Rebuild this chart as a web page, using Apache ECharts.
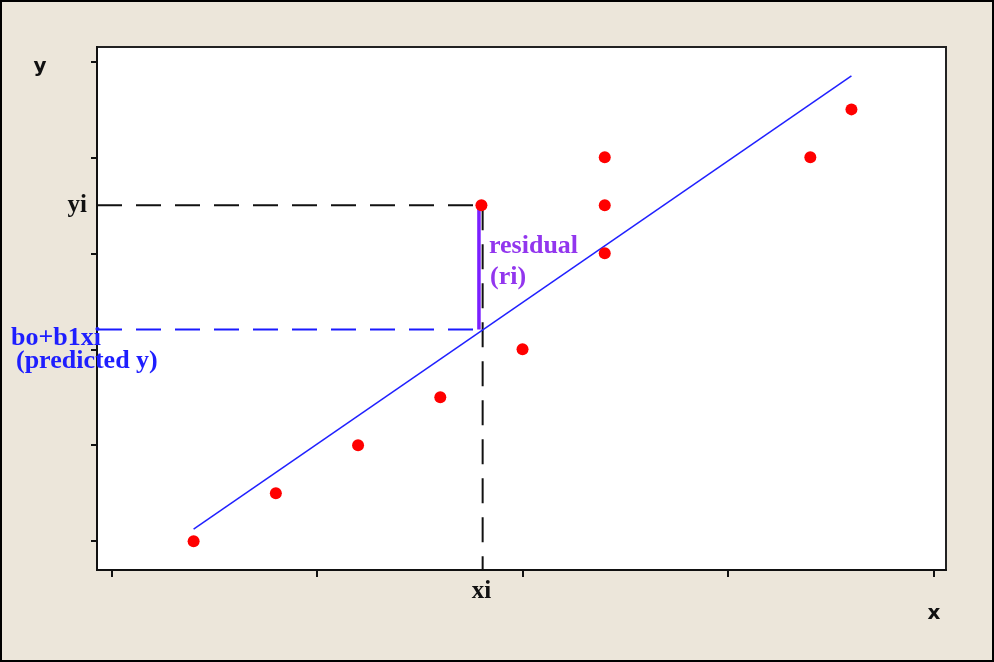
<!DOCTYPE html>
<html>
<head>
<meta charset="utf-8">
<script src="https://cdn.jsdelivr.net/npm/echarts@6/dist/echarts.min.js"></script>
<style>
  html, body { margin: 0; padding: 0; background: #ece6da; }
  #chart { width: 994px; height: 662px; }
</style>
</head>
<body>
<div id="chart"></div>
<script>
// observed points
const pointX = [4, 8, 12, 16, 18, 20, 24, 24, 24, 34, 36]
const pointY = [0, 1, 2, 3, 7, 4, 8, 7, 6, 8, 9]

// fitted regression line (end points)
const fitX = [4, 36]
const fitY = [0.25, 9.7]

// the highlighted observation and its prediction
const xi = 18
const yi = 7
const yHat = 4.41

// axis ticks
const xTicks = [0, 10, 20, 30, 40]
const yTicks = [0, 2, 4, 6, 8, 10]
const xMin = -0.7
const xMax = 40.6
const yMin = -0.6
const yMax = 10.3

const SERIF = '"Liberation Serif", "DejaVu Serif", serif'
const SANS = '"DejaVu Sans", sans-serif'
const dash = [25, 14]

const chart = echarts.init(document.getElementById('chart'))

function seg (x0, y0, x1, y1) {
  return [[x0, y0], [x1, y1]]
}

const option = {
  backgroundColor: '#ece6da',
  animation: false,
  grid: {
    left: 97, right: 48, top: 47, bottom: 92,
    show: true,
    backgroundColor: '#ffffff',
    borderColor: '#222',
    borderWidth: 2,
    outerBoundsMode: 'none'
  },
  xAxis: {
    type: 'value',
    min: xMin,
    max: xMax,
    axisLine: { show: true, onZero: false, lineStyle: { color: '#111', width: 2 } },
    axisTick: { show: true, length: 7, customValues: xTicks, lineStyle: { color: '#111', width: 2 } },
    axisLabel: {
      show: true,
      customValues: [xi],
      formatter: () => 'xi',
      margin: 9,
      color: '#111',
      fontFamily: SERIF,
      fontWeight: 'bold',
      fontSize: 25
    },
    splitLine: { show: false }
  },
  yAxis: {
    type: 'value',
    min: yMin,
    max: yMax,
    axisLine: { show: true, onZero: false, lineStyle: { color: '#111', width: 2 } },
    axisTick: { show: true, length: 6, customValues: yTicks, lineStyle: { color: '#111', width: 2 } },
    axisLabel: {
      show: true,
      customValues: [yi],
      formatter: () => 'yi',
      margin: 10,
      color: '#111',
      fontFamily: SERIF,
      fontWeight: 'bold',
      fontSize: 25
    },
    splitLine: { show: false }
  },
  series: [
    {
      // black dashed: yi level
      type: 'line',
      data: seg(xMin, yi, xi, yi),
      symbol: 'none',
      lineStyle: { color: '#111', width: 2, type: dash },
      z: 2
    },
    {
      // black dashed: xi position
      type: 'line',
      data: seg(xi + 0.06, yi, xi + 0.06, yMin),
      symbol: 'none',
      lineStyle: { color: '#111', width: 2, type: dash },
      z: 2
    },
    {
      // blue dashed: predicted level
      type: 'line',
      data: seg(xMin, yHat, xi, yHat),
      symbol: 'none',
      lineStyle: { color: '#1a1aff', width: 2, type: dash },
      z: 2
    },
    {
      // residual
      type: 'line',
      data: seg(xi - 0.12, yHat, xi - 0.12, yi),
      symbol: 'none',
      lineStyle: { color: '#7a1fff', width: 3.5 },
      z: 3
    },
    {
      // fitted line
      type: 'line',
      data: fitX.map((x, i) => [x, fitY[i]]),
      symbol: 'none',
      lineStyle: { color: '#2020ff', width: 1.5 },
      z: 3
    },
    {
      type: 'scatter',
      data: pointX.map((x, i) => [x, pointY[i]]),
      symbol: 'circle',
      symbolSize: 12,
      itemStyle: { color: '#ff0000', opacity: 1 },
      z: 4
    }
  ],
  graphic: [
    {
      type: 'rect',
      shape: { x: 1, y: 1, width: 992, height: 660 },
      style: { fill: 'none', stroke: '#000', lineWidth: 2 },
      z: 10
    },
    {
      type: 'text', x: 40, y: 67, z: 10,
      style: { text: 'y', font: 'bold 20px ' + SANS, fill: '#111', align: 'center', verticalAlign: 'middle' }
    },
    {
      type: 'text', x: 934, y: 614, z: 10,
      style: { text: 'x', font: 'bold 20px ' + SANS, fill: '#111', align: 'center', verticalAlign: 'middle' }
    },
    {
      type: 'text', x: 11, y: 338, z: 10,
      style: { text: 'bo+b1xi', font: 'bold 26px ' + SERIF, fill: '#1e1eff', align: 'left', verticalAlign: 'middle' }
    },
    {
      type: 'text', x: 16, y: 361, z: 10,
      style: { text: '(predicted y)', font: 'bold 26px ' + SERIF, fill: '#1e1eff', align: 'left', verticalAlign: 'middle' }
    },
    {
      type: 'text', x: 489, y: 246, z: 10,
      style: { text: 'residual', font: 'bold 26px ' + SERIF, fill: '#9236ee', align: 'left', verticalAlign: 'middle' }
    },
    {
      type: 'text', x: 490, y: 277, z: 10,
      style: { text: '(ri)', font: 'bold 26px ' + SERIF, fill: '#9236ee', align: 'left', verticalAlign: 'middle' }
    }
  ]
}

chart.setOption(option)
</script>
</body>
</html>
